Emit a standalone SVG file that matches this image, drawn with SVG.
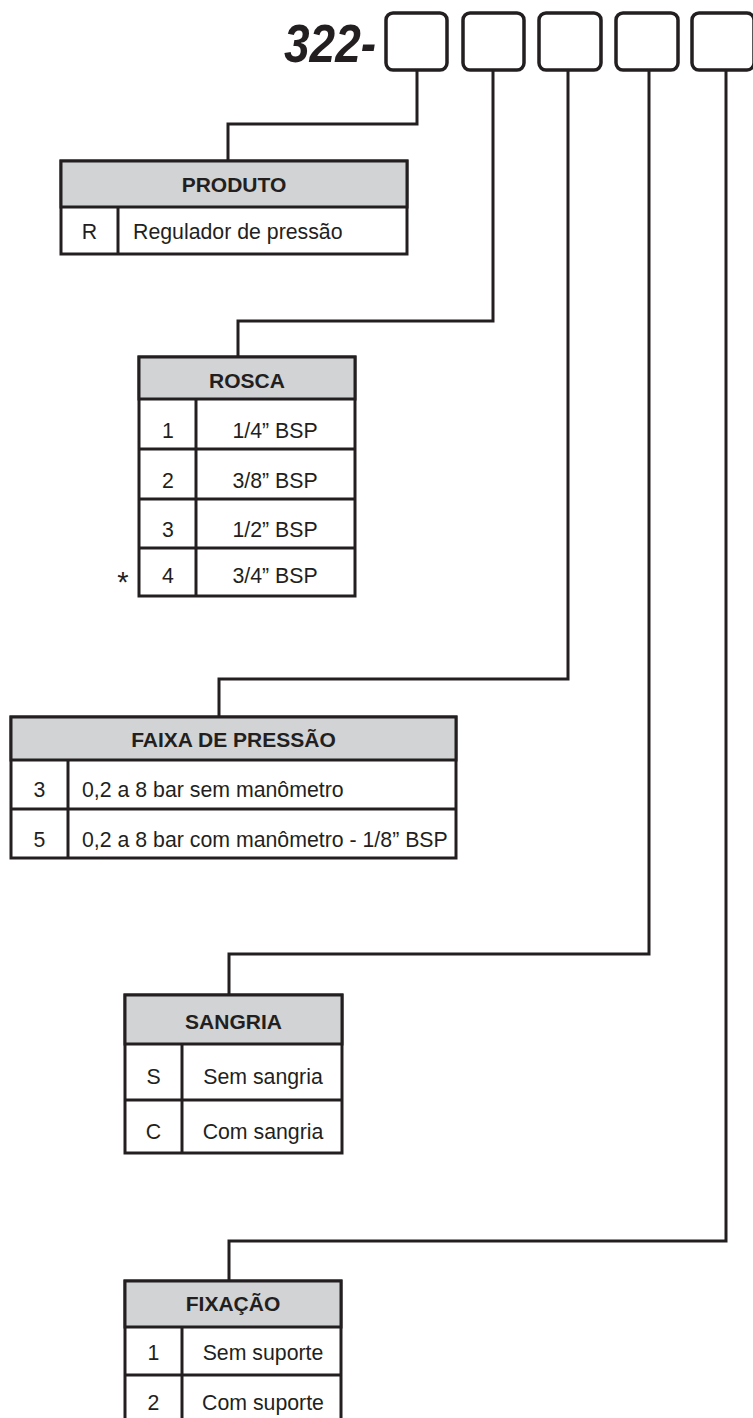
<svg xmlns="http://www.w3.org/2000/svg" width="753" height="1418" viewBox="0 0 753 1418">
<style>
.bg{fill:#ffffff}
.slot{fill:#ffffff;stroke:#231f20;stroke-width:3.5}
.frame{fill:#ffffff;stroke:#231f20;stroke-width:3}
.head{fill:#d1d3d4;stroke:#231f20;stroke-width:3}
.ln{fill:none;stroke:#231f20;stroke-width:3}
.conn{fill:none;stroke:#231f20;stroke-width:3;stroke-linejoin:miter}
.h{font-family:"Liberation Sans",Arial,sans-serif;font-weight:bold;font-size:21px;fill:#231f20;text-anchor:middle}
.t{font-family:"Liberation Sans",Arial,sans-serif;font-size:21.3px;fill:#231f20}
.c{text-anchor:middle}
.code{font-family:"Liberation Sans",Arial,sans-serif;font-weight:bold;font-style:italic;font-size:53px;fill:#231f20}
</style>
<rect class="bg" x="0" y="0" width="753" height="1418"/>

<g id="code">
  <text class="code" x="284" y="62" textLength="92" lengthAdjust="spacingAndGlyphs">322-</text>
  <rect class="slot" x="386" y="13" width="61" height="57" rx="7"/>
  <rect class="slot" x="463" y="13" width="61" height="57" rx="7"/>
  <rect class="slot" x="539" y="13" width="62" height="57" rx="7"/>
  <rect class="slot" x="616" y="13" width="62" height="57" rx="7"/>
  <rect class="slot" x="692" y="13" width="62" height="57" rx="7"/>
</g>

<g id="connectors">
  <polyline class="conn" points="417,71 417,124 228,124 228,161"/>
  <polyline class="conn" points="493,71 493,321 238,321 238,357"/>
  <polyline class="conn" points="568,71 568,679 219,679 219,717"/>
  <polyline class="conn" points="649,71 649,954 229,954 229,995"/>
  <polyline class="conn" points="726,71 726,1241 229,1241 229,1281"/>
</g>

<g id="produto">
  <rect class="frame" x="61" y="161" width="346" height="93"/>
  <rect class="head" x="61" y="161" width="346" height="46"/>
  <line class="ln" x1="118" y1="207" x2="118" y2="254"/>
  <text class="h" x="234" y="192">PRODUTO</text>
  <text class="t c" x="89.5" y="239">R</text>
  <text class="t" x="133" y="239">Regulador de pressão</text>
</g>

<g id="rosca">
  <rect class="frame" x="139" y="357" width="216" height="239"/>
  <rect class="head" x="139" y="357" width="216" height="42"/>
  <line class="ln" x1="139" y1="449" x2="355" y2="449"/>
  <line class="ln" x1="139" y1="499" x2="355" y2="499"/>
  <line class="ln" x1="139" y1="548" x2="355" y2="548"/>
  <line class="ln" x1="196" y1="399" x2="196" y2="596"/>
  <text class="h" x="247" y="388">ROSCA</text>
  <text class="t c" x="168" y="438">1</text>
  <text class="t c" x="275" y="438">1/4” BSP</text>
  <text class="t c" x="168" y="488">2</text>
  <text class="t c" x="275" y="488">3/8” BSP</text>
  <text class="t c" x="168" y="537">3</text>
  <text class="t c" x="275" y="537">1/2” BSP</text>
  <text class="t c" x="168" y="583">4</text>
  <text class="t c" x="275" y="583">3/4” BSP</text>
  <text class="t c" x="123" y="592" style="font-size:29px">*</text>
</g>

<g id="faixa">
  <rect class="frame" x="11" y="717" width="445" height="141"/>
  <rect class="head" x="11" y="717" width="445" height="43"/>
  <line class="ln" x1="11" y1="809" x2="456" y2="809"/>
  <line class="ln" x1="68" y1="760" x2="68" y2="858"/>
  <text class="h" x="233.5" y="747">FAIXA DE PRESSÃO</text>
  <text class="t c" x="39.5" y="797">3</text>
  <text class="t" x="82" y="797">0,2 a 8 bar sem manômetro</text>
  <text class="t c" x="39.5" y="847">5</text>
  <text class="t" x="82" y="847">0,2 a 8 bar com manômetro - 1/8” BSP</text>
</g>

<g id="sangria">
  <rect class="frame" x="125" y="995" width="217" height="158"/>
  <rect class="head" x="125" y="995" width="217" height="49"/>
  <line class="ln" x1="125" y1="1100" x2="342" y2="1100"/>
  <line class="ln" x1="182" y1="1044" x2="182" y2="1153"/>
  <text class="h" x="233.5" y="1029">SANGRIA</text>
  <text class="t c" x="153.5" y="1084">S</text>
  <text class="t c" x="263" y="1084">Sem sangria</text>
  <text class="t c" x="153.5" y="1139">C</text>
  <text class="t c" x="263" y="1139">Com sangria</text>
</g>

<g id="fixacao">
  <rect class="frame" x="125" y="1281" width="216" height="150"/>
  <rect class="head" x="125" y="1281" width="216" height="46"/>
  <line class="ln" x1="125" y1="1375" x2="341" y2="1375"/>
  <line class="ln" x1="182" y1="1327" x2="182" y2="1431"/>
  <text class="h" x="233" y="1311">FIXAÇÃO</text>
  <text class="t c" x="153.5" y="1360">1</text>
  <text class="t c" x="263" y="1360">Sem suporte</text>
  <text class="t c" x="153.5" y="1410">2</text>
  <text class="t c" x="263" y="1410">Com suporte</text>
</g>
</svg>
